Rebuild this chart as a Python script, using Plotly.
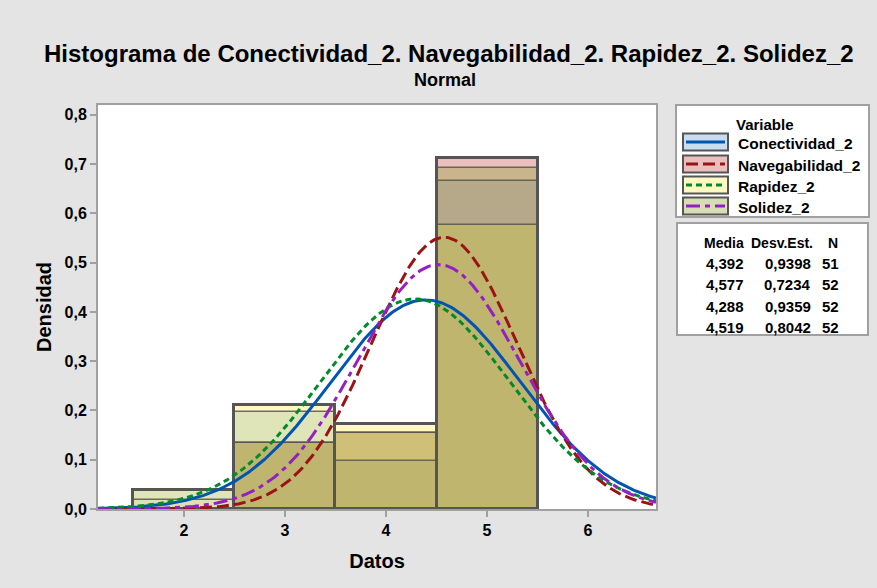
import numpy as np
import plotly.graph_objects as go

# ---------------- data ----------------
SERIES = ["Conectividad_2", "Navegabilidad_2", "Rapidez_2", "Solidez_2"]
SERIES_KEYS = ["C", "N", "R", "S"]
BIN_CENTERS = [2, 3, 4, 5]
COUNTS_CON = [2, 10, 5, 34]
COUNTS_NAV = [0, 7, 8, 37]
COUNTS_RAP = [2, 11, 9, 30]
COUNTS_SOL = [1, 7, 8, 36]
N_OBS = [51, 52, 52, 52]
MEDIA = [4.392, 4.577, 4.288, 4.519]
DESV = [0.9398, 0.7234, 0.9359, 0.8042]
MEDIA_TXT = ["4,392", "4,577", "4,288", "4,519"]
DESV_TXT = ["0,9398", "0,7234", "0,9359", "0,8042"]
N_TXT = ["51", "52", "52", "52"]
Y_TICKS = [0, 0.1, 0.2, 0.3, 0.4, 0.5, 0.6, 0.7, 0.8]
Y_TICK_TEXT = ["0,0", "0,1", "0,2", "0,3", "0,4", "0,5", "0,6", "0,7", "0,8"]
X_TICKS = [2, 3, 4, 5, 6]

# ---------------- styles ----------------
W, H = 877, 588
L, R, T, B = 98, 221, 105, 79
X_RANGE = [1.149, 6.673]
Y_RANGE = [0, 0.82]
FONT = "Liberation Sans, Arial, sans-serif"
LINE_COLORS = ["#0055b0", "#9a1414", "#008a2a", "#9420c4"]
LINE_DASH = ["solid", "12px,5px", "6px,4px", "14px,5px,5px,5px"]
FILL_COLORS = ["#c9dcf0", "#ecbfbf", "#fff8c2", "#d9ddb6"]
COMBO_COLORS = {
    "CNRS": "#c0b56e",
    "CRS": "#dde1b4",
    "CR": "#e0e4b9",
    "C": "#c9dcf0",
    "R": "#fff8c2",
    "NRS": "#cfbf77",
    "CNS": "#b5a98a",
    "NS": "#c9b48c",
    "N": "#ecbfbf",
}

counts = [COUNTS_CON, COUNTS_NAV, COUNTS_RAP, COUNTS_SOL]
dens = [np.array(c, dtype=float) / n for c, n in zip(counts, N_OBS)]

fig = go.Figure()

# layered fills (overlapping translucent bars as in the reference)
groups = {}
for i, xc in enumerate(BIN_CENTERS):
    heights = sorted(set(float(d[i]) for d in dens if d[i] > 0))
    prev = 0.0
    for h in heights:
        combo = "".join(k for k, d in zip(SERIES_KEYS, dens) if d[i] >= h - 1e-12)
        g = groups.setdefault(combo, {"x": [], "y": [], "base": []})
        g["x"].append(xc)
        g["y"].append(h - prev)
        g["base"].append(prev)
        prev = h
for combo, g in groups.items():
    col = COMBO_COLORS.get(combo, FILL_COLORS[SERIES_KEYS.index(combo[0])])
    fig.add_trace(go.Bar(x=g["x"], y=g["y"], base=g["base"], width=1,
                         marker=dict(color=col, line=dict(width=0)),
                         showlegend=False, hoverinfo="skip"))

# per-series outlines
for d in dens:
    fig.add_trace(go.Bar(x=BIN_CENTERS, y=d, width=1,
                         marker=dict(color="rgba(0,0,0,0)",
                                     line=dict(color="rgba(85,85,75,0.85)", width=1.5)),
                         showlegend=False, hoverinfo="skip"))
# envelope outline
env = np.max(np.vstack(dens), axis=0)
fig.add_trace(go.Bar(x=BIN_CENTERS, y=env, width=1,
                     marker=dict(color="rgba(0,0,0,0)", line=dict(color="#555555", width=3)),
                     showlegend=False, hoverinfo="skip"))

# fitted normal curves
xs = np.linspace(X_RANGE[0], X_RANGE[1], 400)
for name, m, s, c, dsh in zip(SERIES, MEDIA, DESV, LINE_COLORS, LINE_DASH):
    ys = np.exp(-0.5 * ((xs - m) / s) ** 2) / (s * np.sqrt(2 * np.pi))
    fig.add_trace(go.Scatter(x=xs, y=ys, mode="lines", name=name,
                             line=dict(color=c, width=3, dash=dsh),
                             showlegend=False, hoverinfo="skip"))

# ---------------- layout helpers (pixel -> paper) ----------------
PW = W - L - R
PH = H - T - B


def fx(px):
    return (px - L) / PW


def fy(py):
    return (H - B - py) / PH


shapes = []
annotations = []

# title
annotations.append(dict(x=fx(449), y=fy(53), xref="paper", yref="paper", showarrow=False,
                        text="Histograma de Conectividad_2. Navegabilidad_2. Rapidez_2. Solidez_2",
                        font=dict(family=FONT, size=24, color="black", weight="bold"),
                        xanchor="center", yanchor="middle"))
annotations.append(dict(x=fx(445), y=fy(80), xref="paper", yref="paper", showarrow=False,
                        text="Normal", font=dict(family=FONT, size=18, color="black", weight="bold"),
                        xanchor="center", yanchor="middle"))

# legend box
shapes.append(dict(type="rect", xref="paper", yref="paper", x0=fx(676), x1=fx(869), y0=fy(217), y1=fy(105),
                   line=dict(color="#a0a0a0", width=2), fillcolor="white", layer="above"))
annotations.append(dict(x=fx(765), y=fy(124), xref="paper", yref="paper", showarrow=False,
                        text="Variable", font=dict(family=FONT, size=15, color="black", weight="bold"),
                        xanchor="center", yanchor="middle"))
row_y = [142, 164, 185, 206]
for i, name in enumerate(SERIES):
    yc = row_y[i]
    shapes.append(dict(type="rect", xref="paper", yref="paper", x0=fx(683), x1=fx(728),
                       y0=fy(yc + 8.5), y1=fy(yc - 8.5), line=dict(color="#555555", width=2),
                       fillcolor=FILL_COLORS[i], layer="above"))
    shapes.append(dict(type="line", xref="paper", yref="paper", x0=fx(686), x1=fx(725),
                       y0=fy(yc), y1=fy(yc), line=dict(color=LINE_COLORS[i], width=3, dash=LINE_DASH[i]),
                       layer="above"))
    annotations.append(dict(x=fx(736), y=fy(yc + 1), xref="paper", yref="paper", showarrow=False,
                            text=name, font=dict(family=FONT, size=15.5, color="black", weight="bold"),
                            xanchor="left", yanchor="middle"))

# stats box
shapes.append(dict(type="rect", xref="paper", yref="paper", x0=fx(677), x1=fx(868), y0=fy(335), y1=fy(223),
                   line=dict(color="#a0a0a0", width=2), fillcolor="white", layer="above"))
head_font = dict(family=FONT, size=14, color="black", weight="bold")
stat_font = dict(family=FONT, size=15, color="black", weight="bold")
for txt, xr in zip(["Media", "Desv.Est.", "N"], [746, 815, 840]):
    annotations.append(dict(x=fx(xr), y=fy(243), xref="paper", yref="paper", showarrow=False,
                            text=txt, font=head_font, xanchor="right", yanchor="middle"))
stat_y = [263, 284, 306, 327]
for i in range(len(SERIES)):
    for txt, xr in zip([MEDIA_TXT[i], DESV_TXT[i], N_TXT[i]], [746, 813, 841]):
        annotations.append(dict(x=fx(xr), y=fy(stat_y[i]), xref="paper", yref="paper", showarrow=False,
                                text=txt, font=stat_font, xanchor="right", yanchor="middle"))

fig.update_layout(
    width=W, height=H,
    margin=dict(l=L, r=R, t=T, b=B, autoexpand=False),
    paper_bgcolor="#e4e4e4", plot_bgcolor="white",
    barmode="overlay", bargap=0, showlegend=False,
    shapes=shapes, annotations=annotations,
    font=dict(family=FONT, color="black"),
    xaxis=dict(range=X_RANGE, tickvals=X_TICKS, ticktext=[str(v) for v in X_TICKS],
               showgrid=False, zeroline=False, showline=True, linecolor="#a0a0a0", linewidth=2,
               mirror=True, ticks="outside", ticklen=6, tickwidth=2, tickcolor="#a0a0a0",
               tickfont=dict(family=FONT, size=16, color="black", weight="bold"),
               title=dict(text="Datos", font=dict(family=FONT, size=20, color="black", weight="bold"),
                          standoff=16)),
    yaxis=dict(range=Y_RANGE, tickvals=Y_TICKS, ticktext=Y_TICK_TEXT,
               showgrid=False, zeroline=False, showline=True, linecolor="#a0a0a0", linewidth=2,
               mirror=True, ticks="outside", ticklen=6, tickwidth=2, tickcolor="#a0a0a0",
               tickfont=dict(family=FONT, size=16, color="black", weight="bold"),
               title=dict(text="Densidad", font=dict(family=FONT, size=20, color="black", weight="bold"),
                          standoff=8)),
)

fig.write_html("out.html")
